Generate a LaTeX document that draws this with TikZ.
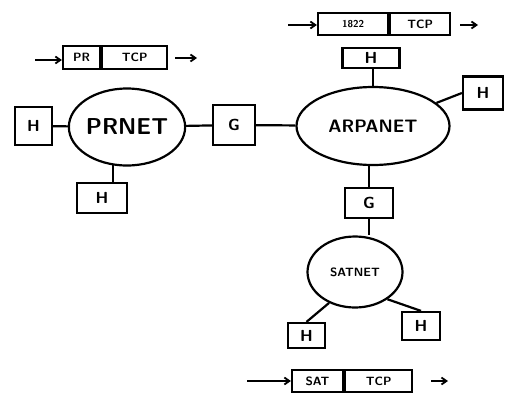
\documentclass[tikz,border=0pt]{standalone}
\usetikzlibrary{shapes.geometric,arrows.meta}
\begin{document}
\begin{tikzpicture}[x=1pt,y=-1pt,line width=2.2pt,
  box/.style={draw,rectangle,inner sep=0pt,font=\sffamily\bfseries\fontsize{16}{16}\selectfont},
  pkt/.style={draw,rectangle,inner sep=0pt,minimum height=23pt,font=\sffamily\bfseries\fontsize{12}{12}\selectfont},
  net/.style={draw,ellipse,inner sep=0pt},
  flow/.style={-{Straight Barb[length=5pt,width=7pt]},line width=1.8pt}]
\useasboundingbox[fill=white] (0,0) rectangle (510,399);
% networks
\node[net,minimum width=96pt,minimum height=77pt,font=\sffamily\bfseries\fontsize{23}{23}\selectfont] (prnet) at (127,127) {PRNET};
\node[net,minimum width=153pt,minimum height=78pt,font=\sffamily\bfseries\fontsize{18}{18}\selectfont] (arpa) at (373,126) {ARPANET};
\node[net,minimum width=95pt,minimum height=71pt,font=\sffamily\bfseries\fontsize{12}{12}\selectfont] (sat) at (355,272) {SATNET};
% hosts and gateways
\node[box,minimum width=37pt,minimum height=38pt] (h1) at (33.5,126) {H};
\node[box,minimum width=50pt,minimum height=30pt] (h2) at (102,198) {H};
\node[box,minimum width=42pt,minimum height=40pt] (g1) at (234,125) {G};
\node[box,minimum width=57pt,minimum height=20pt] (h3) at (371,58) {H};
\node[box,minimum width=40pt,minimum height=33pt] (h4) at (483,93) {H};
\node[box,minimum width=48pt,minimum height=30pt] (g2) at (369,203) {G};
\node[box,minimum width=37pt,minimum height=25pt] (h5) at (306.5,335.5) {H};
\node[box,minimum width=38pt,minimum height=28pt] (h6) at (421,326) {H};
% links
\draw (h1) -- (prnet);
\draw (prnet.-110) -- (h2.north -| prnet.-110);
\draw (prnet) -- (g1);
\draw (g1) -- (arpa);
\draw (arpa.north) -- (h3.south -| arpa.north);
\draw (arpa.20) -- (h4.west);
\draw (arpa.south -| g2.north) -- (g2.north);
\draw (g2.south) -- (sat.north -| g2.south);
\draw (sat.-130) -- (h5.north);
\draw (sat.-40) -- (h6.north);
% packets
\node[pkt,minimum width=37pt] (pra) at (81.5,57.5) {PR};
\node[pkt,minimum width=65pt,anchor=west] (prb) at (pra.east) {TCP};
\coordinate (pin) at (35,60);
\coordinate (pout) at (197,58);
\draw[flow] (pin) -- (pra.west |- pin);
\draw[flow] (prb.east |- pout) ++(7,0) -- (pout);
\node[pkt,minimum width=70pt,minimum height=22pt,font=\sffamily\bfseries\fontsize{10}{10}\selectfont] (aa) at (353,24) {1822};
\node[pkt,minimum width=60pt,minimum height=22pt,anchor=west] (ab) at (aa.east) {TCP};
\coordinate (ain) at (288,25);
\coordinate (aout) at (478,25);
\draw[flow] (ain) -- (aa.west |- ain);
\draw[flow] (ab.east |- aout) ++(9,0) -- (aout);
\node[pkt,minimum width=51pt,minimum height=22pt] (sa) at (317.5,381) {SAT};
\node[pkt,minimum width=67pt,minimum height=22pt,anchor=west] (sb) at (sa.east) {TCP};
\coordinate (sin) at (247,381);
\coordinate (sout) at (448,381);
\draw[flow] (sin) -- (sa.west |- sin);
\draw[flow] (sb.east |- sout) ++(18,0) -- (sout);
\end{tikzpicture}
\end{document}
